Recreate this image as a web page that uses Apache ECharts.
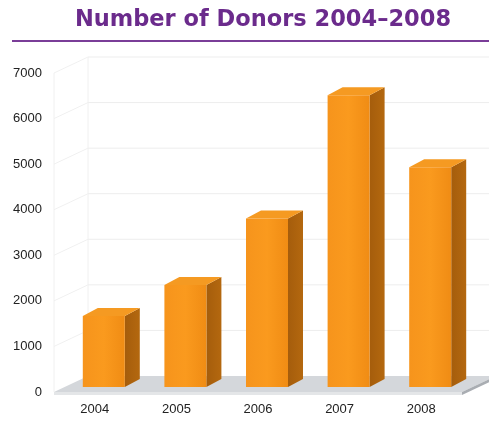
<!DOCTYPE html>
<html>
<head>
<meta charset="utf-8">
<script src="https://cdn.jsdelivr.net/npm/echarts@6/dist/echarts.min.js"></script>
<style>html,body{margin:0;padding:0;background:#fff}#c{width:489px;height:421px}</style>
</head>
<body>
<div id="c"></div>
<script>
const years = ['2004', '2005', '2006', '2007', '2008'];
const donors = [1560, 2240, 3700, 6400, 4820];
const yTicks = [0, 1000, 2000, 3000, 4000, 5000, 6000, 7000];

const chart = echarts.init(document.getElementById('c'));
const WALL_DX = 34, WALL_DY = -16;
const BAR_SX = 9, BAR_SY = -5, BAR_W = 42, BAR_DX = 15, BAR_DY = -8;

function renderWall(params, api) {
  const v = api.value(0);
  const left = api.coord([0, v]);
  const cs = params.coordSys;
  const xL = cs.x, xR = cs.x + cs.width;
  const y = left[1];
  const children = [];
  if (v > 0) {
    children.push({type: 'line', shape: {x1: xL + WALL_DX, y1: y + WALL_DY, x2: xR + WALL_DX + 30, y2: y + WALL_DY},
      style: {stroke: '#ededed', lineWidth: 1}});
    children.push({type: 'line', shape: {x1: xL, y1: y, x2: xL + WALL_DX, y2: y + WALL_DY},
      style: {stroke: '#f0f0f0', lineWidth: 1}});
  }
  if (v === 7000) {
    const base = api.coord([0, 0])[1];
    children.push({type: 'line', shape: {x1: xL, y1: y, x2: xL, y2: base}, style: {stroke: '#f0f0f0', lineWidth: 1}});
    children.push({type: 'line', shape: {x1: xL + WALL_DX, y1: y + WALL_DY, x2: xL + WALL_DX, y2: base + WALL_DY}, style: {stroke: '#f0f0f0', lineWidth: 1}});
  }
  if (v === 0) {
    const xr = xR;
    children.push({type: 'polygon', shape: {points: [[xL, y], [xr, y], [xr + WALL_DX, y + WALL_DY], [xL + WALL_DX, y + WALL_DY]]},
      style: {fill: '#d4d7db'}});
    children.push({type: 'polygon', shape: {points: [[xL, y], [xr, y], [xr, y + 3], [xL, y + 3]]},
      style: {fill: '#e4e6e8'}});
    children.push({type: 'polygon', shape: {points: [[xr, y], [xr + WALL_DX, y + WALL_DY], [xr + WALL_DX, y + WALL_DY + 3], [xr, y + 3]]},
      style: {fill: '#a9adb2'}});
  }
  return {type: 'group', children: children};
}

function renderBar(params, api) {
  const idx = api.value(0), v = api.value(1);
  const b = api.coord([idx, 0]);
  const t = api.coord([idx, v]);
  const x0 = b[0] + BAR_SX - BAR_W / 2, x1 = x0 + BAR_W;
  const yb = b[1] + BAR_SY, yt = t[1] + BAR_SY;
  return {type: 'group', children: [
    {type: 'polygon', shape: {points: [[x1, yt], [x1 + BAR_DX, yt + BAR_DY], [x1 + BAR_DX, yb + BAR_DY], [x1, yb]]},
      style: {fill: new echarts.graphic.LinearGradient(0, 0, 1, 0, [{offset: 0, color: '#a55d0c'}, {offset: 1, color: '#b4680f'}])}},
    {type: 'polygon', shape: {points: [[x0, yt], [x1, yt], [x1 + BAR_DX, yt + BAR_DY], [x0 + BAR_DX, yt + BAR_DY]]},
      style: {fill: '#f59a22'}},
    {type: 'rect', shape: {x: x0, y: yt, width: BAR_W, height: yb - yt},
      style: {fill: new echarts.graphic.LinearGradient(0, 0, 1, 0, [{offset: 0, color: '#f6941c'}, {offset: 0.5, color: '#fa9a1e'}, {offset: 1, color: '#f08c14'}])}}
  ]};
}

chart.setOption({
  animation: false,
  title: {
    text: 'Number of Donors 2004\u20132008',
    left: 258, top: 4, textAlign: 'center',
    textStyle: {color: '#6b2b8c', fontSize: 22.5, fontWeight: 'bold', fontFamily: 'DejaVu Sans'}
  },
  graphic: [{type: 'line', shape: {x1: 12, y1: 41, x2: 489, y2: 41}, style: {stroke: '#7a3d98', lineWidth: 2}}],
  grid: {left: 54, right: 27, top: 73, bottom: 29},
  xAxis: {
    type: 'category', data: years,
    axisLine: {show: false}, axisTick: {show: false},
    axisLabel: {color: '#222', fontSize: 13, fontFamily: 'Liberation Sans, Arial, sans-serif', margin: 11}
  },
  yAxis: {
    type: 'value', min: 0, max: 7000, interval: 1000,
    axisLine: {show: false}, axisTick: {show: false}, splitLine: {show: false},
    axisLabel: {color: '#222', fontSize: 13, fontFamily: 'Liberation Sans, Arial, sans-serif', margin: 12,
      formatter: v => String(v)}
  },
  series: [
    {type: 'custom', renderItem: renderWall, data: yTicks.map(v => [v]), encode: {y: 0}, silent: true, z: 1},
    {type: 'custom', renderItem: renderBar, data: donors.map((v, i) => [i, v]), encode: {x: 0, y: 1}, z: 2}
  ]
});
</script>
</body>
</html>
